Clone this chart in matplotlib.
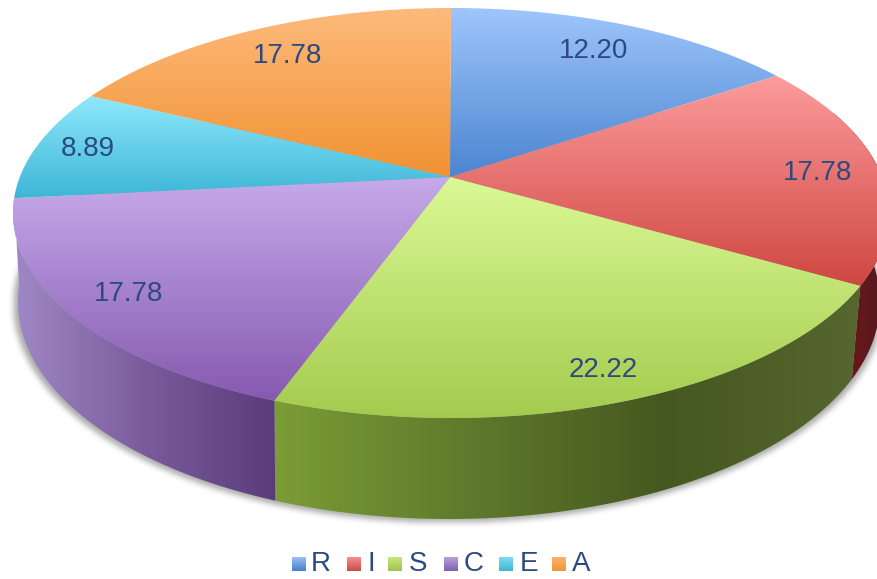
import numpy as np
import matplotlib
matplotlib.use("Agg")
import matplotlib.pyplot as plt
from matplotlib.colors import LinearSegmentedColormap
from matplotlib.patches import Polygon

plt.rcParams["font.family"] = ["Liberation Sans", "DejaVu Sans"]

categories = ["R", "I", "S", "C", "E", "A"]
# slice sizes as drawn; the first slice is drawn bigger than its printed label says
slice_sizes = [15.56, 17.78, 22.22, 17.78, 8.89, 17.78]
value_labels = ["12.20", "17.78", "22.22", "17.78", "8.89", "17.78"]

label_pos = [(594, 51), (818, 173), (603, 370), (129, 294), (88, 149), (288, 56)]
legend_x = [292, 347, 388, 444, 499, 552]
text_x = [311, 368, 409, 464, 520, 572]

top_colors = [("#a0c6fc", "#4b85d0"), ("#fc9c9c", "#cf4641"), ("#dbf995", "#a4cb4e"),
              ("#c6aaea", "#8659b0"), ("#90e9fc", "#3db6d6"), ("#fdba7c", "#f19232")]
side_colors = [None, ("#7a1519", "#4f1a1e"), ("#7c9c36", "#5f7a2c", "#45581f", "#55672f"),
               ("#a088c6", "#7a5c9c", "#5a3c7c"), None, None]
legend_colors = [("#9bbff5", "#4a80c8"), ("#f88f8f", "#c94a46"), ("#c8e681", "#a0c24a"),
                 ("#b9a0dc", "#8060ac"), ("#7fdcf2", "#3fb5d5"), ("#fbb36f", "#f19535")]
text_color = "#2c4a7e"

# ellipse of the top face and of the bottom rim, pixels
top_e = (451, 213, 438, 205)
bot_e = (449, 302, 431, 217)
persp = 0.1756


def project(theta, ell):
    u, v = np.sin(theta), np.cos(theta)
    den = 1 + persp * v
    x = u * np.sqrt(1 - persp ** 2) / den
    y = (v + persp) / den
    return ell[0] + ell[2] * x, ell[1] - ell[3] * y


def grad_fill(ax, verts, cols, vertical=True, z=2):
    verts = np.asarray(verts)
    x0, x1 = verts[:, 0].min(), verts[:, 0].max()
    y0, y1 = verts[:, 1].min(), verts[:, 1].max()
    cmap = LinearSegmentedColormap.from_list("g", cols)
    ramp = np.linspace(0, 1, 256)
    data = ramp[:, None] if vertical else ramp[None, :]
    im = ax.imshow(data, cmap=cmap, extent=(x0, x1, y1, y0), aspect="auto",
                   zorder=z, interpolation="bilinear", origin="upper")
    patch = Polygon(verts, closed=True, transform=ax.transData, fill=False, ec="none")
    ax.add_patch(patch)
    im.set_clip_path(patch)


fig = plt.figure(figsize=(8.78, 5.79), dpi=100)
ax = fig.add_axes([0, 0, 1, 1])

# soft shadow under the pie
yy, xx = np.mgrid[0:579, 0:878]
mask = (((xx - 448) / 435.0) ** 2 + ((yy - 304) / 218.0) ** 2 < 1).astype(float)
kernel = np.ones(7) / 7
for i in range(2):
    mask = np.apply_along_axis(lambda r: np.convolve(r, kernel, mode="same"), 0, mask)
    mask = np.apply_along_axis(lambda r: np.convolve(r, kernel, mode="same"), 1, mask)
shadow = np.zeros((579, 878, 4))
shadow[..., :3] = 0.45
shadow[..., 3] = mask * 0.6
ax.imshow(shadow, extent=(0, 878, 579, 0), aspect="auto", zorder=1)

edges = np.cumsum([0] + slice_sizes) / np.sum(slice_sizes) * 2 * np.pi
vis_lo, vis_hi = np.radians(70), np.radians(264)

# side walls
for i in range(len(categories)):
    if side_colors[i] is None:
        continue
    a0, a1 = max(edges[i], vis_lo), min(edges[i + 1], vis_hi)
    t = np.linspace(a0, a1, 120)
    xt, yt = project(t, top_e)
    xb, yb = project(t, bot_e)
    verts = np.r_[np.c_[xt, yt], np.c_[xb, yb][::-1]]
    grad_fill(ax, verts, side_colors[i], vertical=False, z=2)

# top faces
cx, cy = top_e[0] - 1, top_e[1] - top_e[3] * persp
for i in range(len(categories)):
    t = np.linspace(edges[i], edges[i + 1], 160)
    xt, yt = project(t, top_e)
    verts = np.r_[[[cx, cy]], np.c_[xt, yt]]
    grad_fill(ax, verts, top_colors[i], vertical=True, z=3)

for i in range(len(categories)):
    ax.text(label_pos[i][0], label_pos[i][1], value_labels[i], color=text_color, fontsize=20,
            ha="center", va="center", zorder=5)

# legend
for i in range(len(categories)):
    xs = legend_x[i]
    verts = [(xs, 557), (xs + 14, 557), (xs + 14, 571), (xs, 571)]
    grad_fill(ax, verts, legend_colors[i], vertical=True, z=4)
    ax.text(text_x[i], 564, categories[i], color=text_color, fontsize=20,
            ha="left", va="center", zorder=5)

ax.set_xlim(0, 878)
ax.set_ylim(579, 0)
ax.axis("off")
fig.savefig("out.png", dpi=100, facecolor="white")
